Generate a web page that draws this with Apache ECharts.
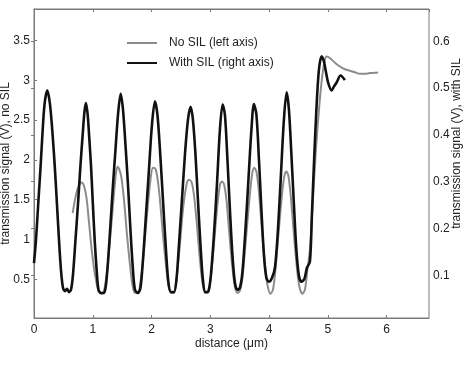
<!DOCTYPE html>
<html>
<head>
<meta charset="utf-8">
<script src="https://cdn.jsdelivr.net/npm/echarts@6.0.0/dist/echarts.min.js"></script>
<style>
  html, body { margin: 0; padding: 0; background: #fff; }
  #chart { width: 468px; height: 365px; }
</style>
</head>
<body>
<div id="chart"></div>
<script>
// No SIL trace (left axis), distance in um
const distNoSil = [
  0.658, 0.697, 0.748, 0.811, 0.850, 0.893, 0.935, 0.978, 1.020, 1.063,
  1.105, 1.156, 1.199, 1.241, 1.293, 1.344, 1.386, 1.420, 1.454, 1.488,
  1.531, 1.582, 1.633, 1.675, 1.718, 1.769, 1.811, 1.862, 1.922, 1.981,
  2.024, 2.066, 2.100, 2.143, 2.194, 2.245, 2.287, 2.330, 2.381, 2.423,
  2.474, 2.534, 2.594, 2.636, 2.679, 2.721, 2.772, 2.823, 2.866, 2.908,
  2.959, 3.002, 3.053, 3.112, 3.163, 3.197, 3.231, 3.274, 3.325, 3.376,
  3.418, 3.461, 3.503, 3.546, 3.597, 3.656, 3.707, 3.747, 3.784, 3.827,
  3.878, 3.929, 3.971, 4.022, 4.065, 4.107, 4.158, 4.218, 4.260, 4.294,
  4.328, 4.371, 4.422, 4.473, 4.515, 4.566, 4.609, 4.651, 4.694, 4.745,
  4.796, 4.855, 4.906, 4.949, 4.978, 5.034, 5.119, 5.204, 5.289, 5.374,
  5.459, 5.544, 5.629, 5.714, 5.799, 5.855
]
const signalNoSil = [
  1.330, 1.497, 1.648, 1.715, 1.673, 1.522, 1.220, 0.895, 0.642, 0.455,
  0.342, 0.317, 0.380, 0.592, 0.994, 1.434, 1.774, 1.912, 1.874, 1.774,
  1.497, 1.057, 0.680, 0.430, 0.329, 0.329, 0.455, 0.806, 1.309, 1.749,
  1.900, 1.887, 1.774, 1.497, 1.057, 0.680, 0.430, 0.329, 0.329, 0.491,
  0.868, 1.371, 1.686, 1.749, 1.724, 1.560, 1.183, 0.743, 0.455, 0.329,
  0.329, 0.491, 0.868, 1.371, 1.686, 1.727, 1.698, 1.497, 1.057, 0.642,
  0.405, 0.329, 0.355, 0.516, 0.933, 1.434, 1.799, 1.900, 1.849, 1.598,
  1.120, 0.680, 0.430, 0.317, 0.367, 0.617, 1.057, 1.560, 1.799, 1.853,
  1.799, 1.522, 1.057, 0.642, 0.405, 0.317, 0.367, 0.617, 0.868, 1.497,
  2.126, 2.692, 3.069, 3.258, 3.299, 3.279, 3.220, 3.173, 3.138, 3.119,
  3.100, 3.081, 3.081, 3.090, 3.094, 3.098
]

// With SIL trace (right axis)
const distSil = [
  0.000, 0.034, 0.073, 0.111, 0.141, 0.179, 0.226, 0.272, 0.318, 0.357,
  0.391, 0.425, 0.459, 0.493, 0.527, 0.561, 0.595, 0.629, 0.663, 0.706,
  0.753, 0.791, 0.828, 0.859, 0.884, 0.913, 0.940, 0.969, 0.998, 1.032,
  1.066, 1.097, 1.139, 1.190, 1.224, 1.259, 1.301, 1.344, 1.386, 1.429,
  1.474, 1.514, 1.556, 1.599, 1.641, 1.684, 1.718, 1.769, 1.811, 1.854,
  1.905, 1.956, 2.007, 2.058, 2.100, 2.143, 2.194, 2.245, 2.287, 2.330,
  2.381, 2.423, 2.466, 2.517, 2.568, 2.619, 2.665, 2.704, 2.747, 2.789,
  2.832, 2.874, 2.917, 2.968, 3.010, 3.061, 3.112, 3.163, 3.209, 3.248,
  3.291, 3.333, 3.376, 3.418, 3.461, 3.503, 3.546, 3.597, 3.648, 3.699,
  3.741, 3.784, 3.827, 3.869, 3.912, 3.954, 3.997, 4.048, 4.099, 4.150,
  4.201, 4.252, 4.298, 4.337, 4.379, 4.422, 4.464, 4.507, 4.549, 4.600,
  4.643, 4.694, 4.728, 4.762, 4.804, 4.847, 4.893, 4.932, 4.966, 5.005,
  5.063, 5.102, 5.148, 5.216, 5.289
]
const signalSil = [
  0.126, 0.176, 0.255, 0.330, 0.396, 0.465, 0.495, 0.465, 0.398, 0.325,
  0.251, 0.176, 0.111, 0.073, 0.066, 0.071, 0.064, 0.069, 0.101, 0.176,
  0.261, 0.336, 0.400, 0.450, 0.468, 0.443, 0.394, 0.336, 0.261, 0.176,
  0.111, 0.069, 0.062, 0.062, 0.079, 0.129, 0.208, 0.293, 0.368, 0.443,
  0.488, 0.454, 0.379, 0.293, 0.197, 0.111, 0.069, 0.062, 0.073, 0.133,
  0.229, 0.326, 0.422, 0.472, 0.443, 0.368, 0.261, 0.154, 0.084, 0.064,
  0.064, 0.090, 0.165, 0.261, 0.358, 0.432, 0.460, 0.432, 0.358, 0.261,
  0.165, 0.090, 0.064, 0.066, 0.101, 0.186, 0.293, 0.411, 0.465, 0.443,
  0.347, 0.240, 0.143, 0.084, 0.069, 0.073, 0.107, 0.197, 0.304, 0.411,
  0.466, 0.443, 0.347, 0.240, 0.143, 0.094, 0.086, 0.094, 0.116, 0.197,
  0.315, 0.433, 0.491, 0.454, 0.358, 0.251, 0.154, 0.099, 0.086, 0.092,
  0.116, 0.129, 0.229, 0.336, 0.454, 0.539, 0.568, 0.557, 0.535, 0.511,
  0.495, 0.503, 0.512, 0.527, 0.517
]

const font = 'Liberation Sans, Arial, sans-serif'
const frame = '#7a7a7a'
const ink = '#222'

const chart = echarts.init(document.getElementById('chart'))

const zip = (xs, ys) => xs.map((x, i) => [x, ys[i]])

const option = {
  animation: false,
  backgroundColor: '#fff',
  textStyle: { fontFamily: font },
  grid: {
    left: 34, right: 39, top: 9, bottom: 47,
    show: true, borderColor: frame, borderWidth: 1,
    outerBoundsMode: 'none'
  },
  legend: {
    orient: 'vertical',
    left: 122,
    top: 32,
    itemWidth: 30,
    itemHeight: 2,
    itemGap: 8,
    textStyle: { fontFamily: font, fontSize: 12, color: ink, padding: [0, 0, 0, 7] },
    data: [
      { name: 'No SIL (left axis)', icon: 'rect' },
      { name: 'With SIL (right axis)', icon: 'rect' }
    ]
  },
  xAxis: [
    {
      type: 'value',
      min: 0, max: 6.72, interval: 1,
      name: 'distance (\u03bcm)',
      nameLocation: 'middle',
      nameGap: 20,
      nameMoveOverlap: false,
      nameTextStyle: { fontFamily: font, fontSize: 12, color: ink },
      axisLine: { show: true, lineStyle: { color: frame } },
      axisTick: { inside: true, length: 3, lineStyle: { color: frame } },
      axisLabel: { fontFamily: font, fontSize: 12, color: ink, margin: 6, showMaxLabel: false },
      splitLine: { show: false }
    },
    {
      type: 'value',
      position: 'top',
      min: 0, max: 6.72, interval: 1,
      axisLine: { show: true, lineStyle: { color: frame } },
      axisTick: { inside: true, length: 3, lineStyle: { color: frame } },
      axisLabel: { show: false },
      splitLine: { show: false }
    }
  ],
  yAxis: [
    {
      type: 'value',
      position: 'left',
      min: 0.013, max: 3.895, splitNumber: 8,
      name: 'transmission signal (V), no SIL',
      nameLocation: 'middle',
      nameRotate: 90,
      nameGap: 22,
      nameMoveOverlap: false,
      nameTextStyle: { fontFamily: font, fontSize: 12, color: ink },
      axisLine: { show: true, lineStyle: { color: frame } },
      axisTick: { inside: true, length: 3, lineStyle: { color: frame } },
      axisLabel: { fontFamily: font, fontSize: 12, color: ink, margin: 4, showMinLabel: false, showMaxLabel: false },
      splitLine: { show: false }
    },
    {
      type: 'value',
      position: 'right',
      min: 0.0086, max: 0.669, splitNumber: 6,
      name: 'transmission signal (V), with SIL',
      nameLocation: 'middle',
      nameRotate: 90,
      nameGap: 22,
      nameMoveOverlap: false,
      nameTextStyle: { fontFamily: font, fontSize: 12, color: ink, padding: [0, 0, 0, 40] },
      axisLine: { show: true, lineStyle: { color: frame } },
      axisTick: { inside: true, length: 3, lineStyle: { color: frame } },
      axisLabel: { fontFamily: font, fontSize: 12, color: ink, margin: 4, showMinLabel: false, showMaxLabel: false },
      splitLine: { show: false }
    }
  ],
  series: [
    {
      name: 'No SIL (left axis)',
      type: 'line',
      xAxisIndex: 0,
      yAxisIndex: 0,
      showSymbol: false,
      smooth: 0.3,
      color: '#8c8c8c',
      lineStyle: { color: '#8c8c8c', width: 2 },
      data: zip(distNoSil, signalNoSil)
    },
    {
      name: 'With SIL (right axis)',
      type: 'line',
      xAxisIndex: 0,
      yAxisIndex: 1,
      showSymbol: false,
      smooth: 0.3,
      color: '#111',
      lineStyle: { color: '#111', width: 2.6 },
      data: zip(distSil, signalSil)
    }
  ]
}

chart.setOption(option)
</script>
</body>
</html>
